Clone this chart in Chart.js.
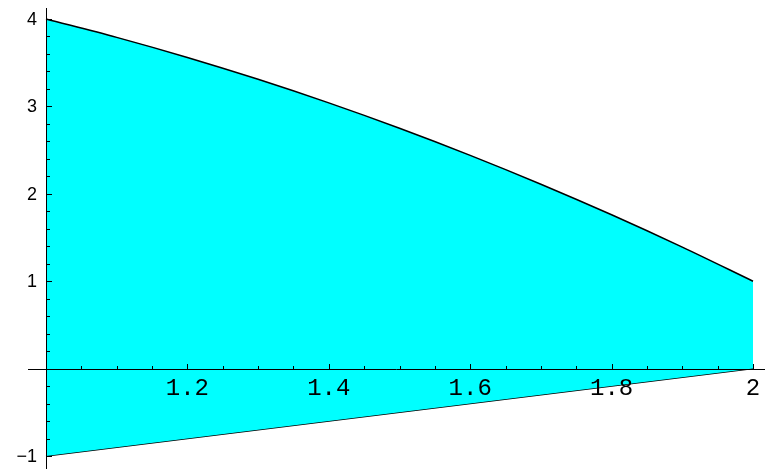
<!DOCTYPE html>
<html>
<head>
<meta charset="utf-8">
<script src="https://cdn.jsdelivr.net/npm/chart.js@4.4.0/dist/chart.umd.min.js"></script>
<style>
  html, body { margin: 0; padding: 0; background: #fff; }
  #wrap { width: 765px; height: 469px; position: relative; }
</style>
</head>
<body>
<div id="wrap"><canvas id="plot"></canvas></div>
<script>
// sample positions along x
const xs = [1.0, 1.1, 1.2, 1.3, 1.4, 1.5, 1.6, 1.7, 1.8, 1.9, 2.0];
// upper boundary of the shaded region
const upper = [4.0, 3.79, 3.56, 3.31, 3.04, 2.75, 2.44, 2.11, 1.76, 1.39, 1.0];
// lower boundary of the shaded region
const lower = [-1.0, -0.9, -0.8, -0.7, -0.6, -0.5, -0.4, -0.3, -0.2, -0.1, 0.0];

const xTicks = [1.2, 1.4, 1.6, 1.8, 2];
const xTickLabels = ["1.2", "1.4", "1.6", "1.8", "2"];
const yTicks = [-1, 1, 2, 3, 4];
const yTickLabels = ["\u22121", "1", "2", "3", "4"];

const pts = (ys) => xs.map((x, i) => ({ x: x, y: ys[i] }));

// axes drawn through the origin (1, 0), Mathematica style
const crossAxes = {
  id: "crossAxes",
  afterDatasetsDraw(chart) {
    const ctx = chart.ctx;
    const sx = chart.scales.x, sy = chart.scales.y;
    const x0 = sx.getPixelForValue(1);
    const y0 = sy.getPixelForValue(0);
    ctx.save();
    ctx.strokeStyle = "#000";
    ctx.lineWidth = 1;

    ctx.beginPath();
    ctx.moveTo(28, Math.round(y0) + 0.5);
    ctx.lineTo(765, Math.round(y0) + 0.5);
    ctx.moveTo(Math.round(x0) + 0.5, 8);
    ctx.lineTo(Math.round(x0) + 0.5, 469);
    ctx.stroke();

    // x ticks: minor every 0.05, major every 0.2
    ctx.beginPath();
    for (let k = 1; k <= 20; k++) {
      const v = 1 + k * 0.05;
      const px = Math.round(sx.getPixelForValue(v)) + 0.5;
      const len = k % 4 === 0 ? 5 : 3;
      ctx.moveTo(px, Math.round(y0));
      ctx.lineTo(px, Math.round(y0) - len);
    }
    // y ticks: minor every 0.2, major every 1
    for (let k = -5; k <= 20; k++) {
      if (k === 0) continue;
      const v = k * 0.2;
      const py = Math.round(sy.getPixelForValue(v)) + 0.5;
      const len = k % 5 === 0 ? 5 : 3;
      ctx.moveTo(Math.round(x0) + 1, py);
      ctx.lineTo(Math.round(x0) + 1 + len, py);
    }
    ctx.stroke();

    ctx.fillStyle = "#000";
    ctx.font = "24px 'Liberation Mono', 'Courier New', monospace";
    ctx.textAlign = "center";
    ctx.textBaseline = "alphabetic";
    xTicks.forEach((v, i) => {
      ctx.fillText(xTickLabels[i], sx.getPixelForValue(v), y0 + 26);
    });

    ctx.font = "18px 'Liberation Sans', Arial, sans-serif";
    ctx.textAlign = "right";
    ctx.textBaseline = "middle";
    yTicks.forEach((v, i) => {
      ctx.fillText(yTickLabels[i], x0 - 9, sy.getPixelForValue(v) + 1);
    });
    ctx.restore();
  }
};

new Chart(document.getElementById("plot"), {
  type: "line",
  data: {
    datasets: [
      {
        data: pts(upper),
        borderColor: "#000",
        borderWidth: 1.5,
        backgroundColor: "#00ffff",
        fill: "+1",
        pointRadius: 0,
        tension: 0.4,
        cubicInterpolationMode: "monotone",
        clip: 4
      },
      {
        data: pts(lower),
        borderColor: "#000",
        borderWidth: 1.5,
        fill: false,
        pointRadius: 0,
        clip: 4
      }
    ]
  },
  options: {
    responsive: true,
    maintainAspectRatio: false,
    animation: false,
    layout: { padding: { left: 46, right: 12, top: 19, bottom: 13 } },
    plugins: { legend: { display: false }, tooltip: { enabled: false } },
    scales: {
      x: { type: "linear", min: 1, max: 2, display: false },
      y: { type: "linear", min: -1, max: 4, display: false }
    }
  },
  plugins: [crossAxes]
});
</script>
</body>
</html>
